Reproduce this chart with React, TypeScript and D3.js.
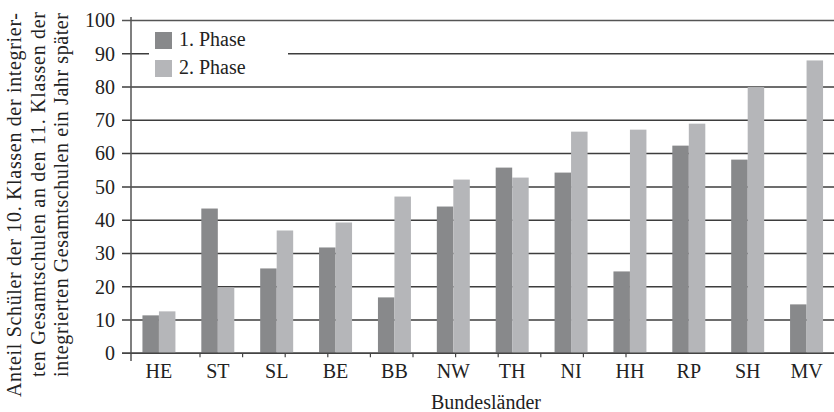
import * as d3 from 'd3'
import React from 'react'

const categories = ['HE', 'ST', 'SL', 'BE', 'BB', 'NW', 'TH', 'NI', 'HH', 'RP', 'SH', 'MV']
const phase1 = [11.4, 43.5, 25.5, 31.8, 16.8, 44.1, 55.8, 54.3, 24.6, 62.4, 58.2, 14.7]
const phase2 = [12.6, 19.8, 36.9, 39.3, 47.1, 52.2, 52.8, 66.6, 67.2, 69.0, 80.0, 88.0]
const seriesNames = ['1. Phase', '2. Phase']
const yTicks = [0, 10, 20, 30, 40, 50, 60, 70, 80, 90, 100]
const yLabelLines = [
  'Anteil Schüler der 10. Klassen der integrier-',
  'ten Gesamtschulen an den 11. Klassen der',
  'integrierten Gesamtschulen ein Jahr später',
]
const xTitle = 'Bundesländer'

const W = 834
const H = 412
const font = 'Liberation Serif, DejaVu Serif, serif'
const colors = ['#88898b', '#b5b6b9']
const gridColor = '#3d3d3d'

const App = () => {
  const x = d3.scaleBand().domain(categories).range([129.5, 836]).padding(0)
  const sub = d3.scaleBand().domain(['0', '1']).range([0, x.bandwidth()]).paddingInner(0).paddingOuter(0.785)
  const y = d3.scaleLinear().domain([0, 100]).range([353.3, 20.5])
  const axisX = 131
  // the odd, unaligned ticks under the category axis
  const oddTicks = d3.scaleLinear().domain([0, 10]).range([200, 626])

  // label lines: [baseline x, start y, length]
  const labelPos = [
    [21, 397, 384],
    [44.5, 377, 365],
    [68, 377, 364],
  ]

  const txt = { fontFamily: font, fontSize: '20px', fill: '#222' }

  return (
    <svg
      width={W}
      height={H}
      style={{ position: 'absolute', left: 0, top: 0, background: '#fff' }}
    >
      {yTicks.map((t) => (
        <g key={`g-${t}`}>
          <line
            x1={122}
            x2={W}
            y1={y(t)}
            y2={y(t)}
            stroke={t === 100 ? '#555' : gridColor}
            strokeWidth={1.5}
          />
          <text x={115} y={y(t)} dy='0.34em' textAnchor='end' style={txt}>
            {t}
          </text>
        </g>
      ))}

      {categories.map((c, i) => (
        <g key={`grp-${c}`} transform={`translate(${x(c)}, 0)`}>
          {[phase1[i], phase2[i]].map((v, j) => (
            <rect
              key={`bar-${j}`}
              x={sub(String(j)) || 0}
              y={y(v)}
              width={sub.bandwidth()}
              height={y(0) - y(v)}
              fill={colors[j]}
            />
          ))}
        </g>
      ))}

      {/* legend */}
      <rect x={149} y={24} width={139} height={60} fill='#fff' />
      {seriesNames.map((s, i) => (
        <g key={`leg-${i}`} transform={`translate(155, ${32 + i * 28})`}>
          <rect x={0} y={0} width={17} height={17} fill={colors[i]} />
          <text x={24} y={14} style={txt}>
            {s}
          </text>
        </g>
      ))}

      {/* axes */}
      <line x1={axisX} x2={axisX} y1={17} y2={361} stroke='#555' strokeWidth={1.5} />
      <line x1={122} x2={W} y1={y(0)} y2={y(0)} stroke='#444' strokeWidth={1.5} />
      {d3.range(11).map((k) => (
        <line
          key={`xt-${k}`}
          x1={oddTicks(k)}
          x2={oddTicks(k)}
          y1={y(0)}
          y2={y(0) + 4}
          stroke='#444'
          strokeWidth={1.2}
        />
      ))}
      {categories.map((c) => (
        <text
          key={`xl-${c}`}
          x={(x(c) || 0) + x.bandwidth() / 2}
          y={377.5}
          textAnchor='middle'
          style={txt}
        >
          {c}
        </text>
      ))}
      <text x={486} y={408.5} textAnchor='middle' style={txt}>
        {xTitle}
      </text>

      {yLabelLines.map((l, i) => (
        <text
          key={`yl-${i}`}
          transform={`translate(${labelPos[i][0]}, ${labelPos[i][1]}) rotate(-90)`}
          style={txt}
          textLength={labelPos[i][2]}
          lengthAdjust='spacing'
        >
          {l}
        </text>
      ))}
    </svg>
  )
}

export default App
